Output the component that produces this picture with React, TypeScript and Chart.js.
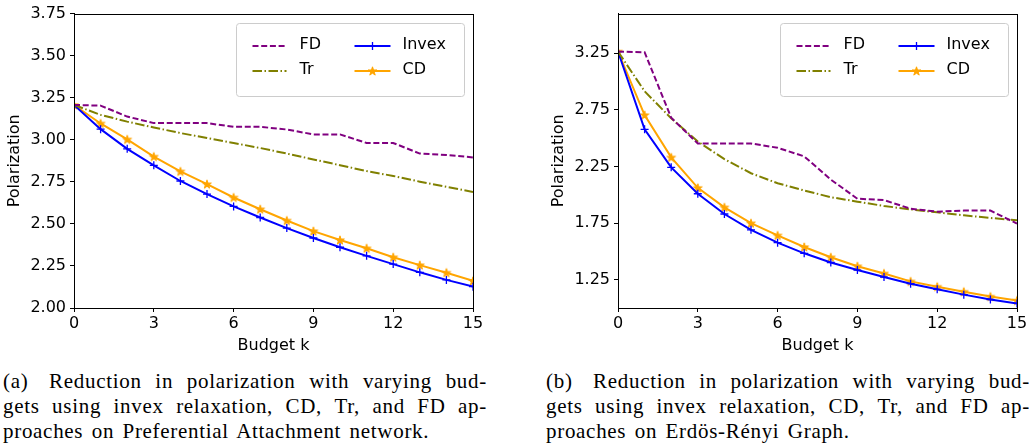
import React, { useEffect, useRef } from "react";
import { Chart, registerables } from "chart.js";

Chart.register(...registerables);

// ---------- data ----------
const budgets = [0, 1, 2, 3, 4, 5, 6, 7, 8, 9, 10, 11, 12, 13, 14, 15];
const xTicks = [0, 3, 6, 9, 12, 15];

// (a) Preferential Attachment
const paFD = [3.207, 3.203, 3.138, 3.099, 3.099, 3.099, 3.077, 3.077, 3.061, 3.032, 3.032, 2.981, 2.981, 2.918, 2.91, 2.895];
const paTr = [3.207, 3.148, 3.108, 3.073, 3.04, 3.01, 2.981, 2.951, 2.918, 2.883, 2.849, 2.814, 2.785, 2.751, 2.72, 2.69];
const paInvex = [3.207, 3.063, 2.946, 2.848, 2.755, 2.677, 2.604, 2.538, 2.475, 2.416, 2.361, 2.31, 2.261, 2.212, 2.167, 2.127];
const paCD = [3.207, 3.097, 3.002, 2.9, 2.812, 2.736, 2.657, 2.587, 2.52, 2.457, 2.404, 2.355, 2.302, 2.255, 2.21, 2.161];
const paYTicks = [2.0, 2.25, 2.5, 2.75, 3.0, 3.25, 3.5, 3.75];
const paYRange = [2.0, 3.75];

// (b) Erdös-Rényi
const erFD = [3.265, 3.259, 2.68, 2.453, 2.453, 2.453, 2.415, 2.339, 2.134, 1.965, 1.953, 1.877, 1.851, 1.86, 1.86, 1.746];
const erTr = [3.265, 2.914, 2.675, 2.47, 2.315, 2.19, 2.102, 2.038, 1.979, 1.939, 1.901, 1.871, 1.845, 1.819, 1.795, 1.775];
const erInvex = [3.265, 2.578, 2.242, 2.009, 1.83, 1.69, 1.577, 1.483, 1.402, 1.335, 1.273, 1.215, 1.165, 1.118, 1.075, 1.04];
const erCD = [3.265, 2.704, 2.33, 2.061, 1.889, 1.749, 1.641, 1.539, 1.448, 1.369, 1.305, 1.235, 1.188, 1.144, 1.101, 1.066];
const erYTicks = [1.25, 1.75, 2.25, 2.75, 3.25];
const erYRange = [1.0, 3.6];

const seriesNames = ["FD", "Tr", "Invex", "CD"];
const captionA = [
  ["(a)", "Reduction", "in", "polarization", "with", "varying", "bud-"],
  ["gets", "using", "invex", "relaxation,", "CD,", "Tr,", "and", "FD", "ap-"],
  ["proaches on Preferential Attachment network."],
];
const captionB = [
  ["(b)", "Reduction", "in", "polarization", "with", "varying", "bud-"],
  ["gets", "using", "invex", "relaxation,", "CD,", "Tr,", "and", "FD", "ap-"],
  ["proaches on Erdös-Rényi Graph."],
];

// ---------- styles ----------
const PURPLE = "#800080";
const OLIVE = "#808000";
const BLUE = "#0000ff";
const ORANGE = "#ffa500";
const FONT = "'DejaVu Sans', sans-serif";
const FD_DASH = [6, 2.7];
const TR_DASH = [9.5, 2.5, 1.5, 2.5];

function drawStar(ctx: CanvasRenderingContext2D, cx: number, cy: number, R: number) {
  const r = R * 0.382;
  ctx.beginPath();
  for (let i = 0; i < 10; i++) {
    const rad = i % 2 === 0 ? R : r;
    const a = -Math.PI / 2 + (i * Math.PI) / 5;
    const px = cx + rad * Math.cos(a);
    const py = cy + rad * Math.sin(a);
    if (i === 0) ctx.moveTo(px, py);
    else ctx.lineTo(px, py);
  }
  ctx.closePath();
  ctx.fillStyle = ORANGE;
  ctx.fill();
  ctx.strokeStyle = ORANGE;
  ctx.lineWidth = 1;
  ctx.stroke();
}

function makeStarImage(): HTMLCanvasElement {
  const c = document.createElement("canvas");
  c.width = 12;
  c.height = 12;
  const ctx = c.getContext("2d")!;
  drawStar(ctx, 6, 6.4, 4.6);
  return c;
}

const framePlugin = {
  id: "frame",
  afterDatasetsDraw(chart: any) {
    const { ctx, chartArea: a } = chart;
    ctx.save();
    ctx.strokeStyle = "#000";
    ctx.lineWidth = 1;
    ctx.setLineDash([]);
    ctx.strokeRect(Math.round(a.left) + 0.5, Math.round(a.top) + 0.5, Math.round(a.right - a.left), Math.round(a.bottom - a.top));
    ctx.restore();
  },
};

const legendPlugin = {
  id: "mplLegend",
  afterDraw(chart: any) {
    const { ctx, chartArea: a } = chart;
    const W = 228, H = 73;
    const L = Math.round(a.right) - 9 - W + 0.5;
    const T = Math.round(a.top) + 9 + 0.5;
    ctx.save();
    ctx.beginPath();
    ctx.roundRect(L, T, W, H, 3);
    ctx.fillStyle = "rgba(255,255,255,0.8)";
    ctx.fill();
    ctx.strokeStyle = "#cccccc";
    ctx.lineWidth = 1;
    ctx.stroke();

    const rows = [T + 22.5, T + 47.5];
    const entries = [
      { name: seriesNames[0], col: 0, row: 0, color: PURPLE, dash: FD_DASH, marker: "" },
      { name: seriesNames[1], col: 0, row: 1, color: OLIVE, dash: TR_DASH, marker: "" },
      { name: seriesNames[2], col: 1, row: 0, color: BLUE, dash: [], marker: "cross" },
      { name: seriesNames[3], col: 1, row: 1, color: ORANGE, dash: [], marker: "star" },
    ];
    const cols = [
      { x0: 16, x1: 50, tx: 63 },
      { x0: 118, x1: 154, tx: 166 },
    ];
    ctx.font = `16px ${FONT}`;
    ctx.textBaseline = "middle";
    ctx.textAlign = "left";
    for (const e of entries) {
      const c = cols[e.col];
      const y = Math.round(rows[e.row]);
      ctx.beginPath();
      ctx.setLineDash(e.dash);
      ctx.strokeStyle = e.color;
      ctx.lineWidth = 2;
      ctx.moveTo(L + c.x0, y);
      ctx.lineTo(L + c.x1, y);
      ctx.stroke();
      ctx.setLineDash([]);
      const mx = L + (c.x0 + c.x1) / 2;
      if (e.marker === "cross") {
        ctx.beginPath();
        ctx.lineWidth = 1.3;
        ctx.moveTo(mx - 4, y);
        ctx.lineTo(mx + 4, y);
        ctx.moveTo(mx, y - 4);
        ctx.lineTo(mx, y + 4);
        ctx.stroke();
      } else if (e.marker === "star") {
        drawStar(ctx, mx, y + 0.4, 4.6);
      }
      ctx.fillStyle = "#000";
      ctx.fillText(e.name, L + c.tx, y - 1);
    }
    ctx.restore();
  },
};

function toPoints(ys: number[]) {
  return budgets.map((b, i) => ({ x: b, y: ys[i] }));
}

function buildConfig(fd: number[], tr: number[], inv: number[], cd: number[], yRange: number[], yTicks: number[], star: HTMLCanvasElement): any {
  const common = { borderWidth: 2, fill: false, tension: 0, pointHoverRadius: 0 };
  return {
    type: "line",
    data: {
      datasets: [
        { ...common, label: seriesNames[0], data: toPoints(fd), borderColor: PURPLE, borderDash: FD_DASH, pointRadius: 0 },
        { ...common, label: seriesNames[1], data: toPoints(tr), borderColor: OLIVE, borderDash: TR_DASH, pointRadius: 0 },
        { ...common, label: seriesNames[2], data: toPoints(inv), borderColor: BLUE, pointStyle: "cross", pointRadius: 4, pointBorderWidth: 1.3, pointBorderColor: BLUE, pointBackgroundColor: BLUE },
        { ...common, label: seriesNames[3], data: toPoints(cd), borderColor: ORANGE, pointStyle: star, pointRadius: 5, pointBorderColor: ORANGE, pointBackgroundColor: ORANGE },
      ],
    },
    options: {
      animation: false,
      responsive: false,
      maintainAspectRatio: false,
      events: [],
      layout: { padding: { left: 0, right: 27, top: 11, bottom: 0 } },
      plugins: { legend: { display: false }, tooltip: { enabled: false } },
      scales: {
        x: {
          type: "linear",
          min: 0,
          max: 15,
          afterBuildTicks: (s: any) => {
            s.ticks = xTicks.map((v) => ({ value: v }));
          },
          ticks: { color: "#000", font: { family: FONT, size: 16 }, padding: 2, maxRotation: 0, autoSkip: false, callback: (v: any) => String(v) },
          grid: { display: true, drawOnChartArea: false, drawTicks: true, tickLength: 4, color: "#000", tickColor: "#000", lineWidth: 1 },
          border: { display: true, color: "#000", width: 1 },
          title: { display: true, text: "Budget k", color: "#000", font: { family: FONT, size: 16 }, padding: { top: 0, bottom: 5 } },
          afterFit: (s: any) => {
            s.height = 52;
          },
        },
        y: {
          type: "linear",
          min: yRange[0],
          max: yRange[1],
          afterBuildTicks: (s: any) => {
            s.ticks = yTicks.map((v) => ({ value: v }));
          },
          ticks: { color: "#000", font: { family: FONT, size: 16 }, padding: 4, autoSkip: false, callback: (v: any) => Number(v).toFixed(2) },
          grid: { display: true, drawOnChartArea: false, drawTicks: true, tickLength: 4, color: "#000", tickColor: "#000", lineWidth: 1 },
          border: { display: true, color: "#000", width: 1 },
          title: { display: true, text: "Polarization", color: "#000", font: { family: FONT, size: 16 }, padding: { top: 5, bottom: 0 } },
          afterFit: (s: any) => {
            s.width = 74;
          },
        },
      },
    },
    plugins: [framePlugin, legendPlugin],
  };
}

function LineChart(props: { fd: number[]; tr: number[]; inv: number[]; cd: number[]; yRange: number[]; yTicks: number[]; left: number }) {
  const ref = useRef<HTMLCanvasElement | null>(null);
  useEffect(() => {
    if (!ref.current) return;
    const star = makeStarImage();
    const chart = new Chart(ref.current, buildConfig(props.fd, props.tr, props.inv, props.cd, props.yRange, props.yTicks, star));
    return () => chart.destroy();
  }, []);
  return (
    <canvas
      ref={ref}
      width={500}
      height={360}
      style={{ position: "absolute", left: props.left, top: 0, width: 500, height: 360 }}
    />
  );
}

function Caption(props: { lines: string[][]; left: number }) {
  return (
    <div
      style={{
        position: "absolute",
        left: props.left,
        top: 369,
        width: 484,
        fontFamily: "'Liberation Serif', 'Times New Roman', serif",
        fontSize: 21,
        letterSpacing: 0.7,
        lineHeight: "24.8px",
        color: "#000",
      }}
    >
      {props.lines.map((words, i) =>
        i < props.lines.length - 1 ? (
          <div key={i} style={{ display: "flex", justifyContent: "space-between", whiteSpace: "nowrap", height: 24.8 }}>
            {words.map((w, j) => (
              <span key={j} style={{ paddingRight: j === 0 && w.startsWith("(") ? 7 : 0 }}>
                {w}
              </span>
            ))}
          </div>
        ) : (
          <div key={i} style={{ whiteSpace: "nowrap", wordSpacing: 2.5, height: 24.8 }}>
            {words.join(" ")}
          </div>
        )
      )}
    </div>
  );
}

export default function App() {
  return (
    <div style={{ position: "fixed", left: 0, top: 0, width: 1029, height: 447, overflow: "hidden", background: "#fff" }}>
      <LineChart fd={paFD} tr={paTr} inv={paInvex} cd={paCD} yRange={paYRange} yTicks={paYTicks} left={0} />
      <LineChart fd={erFD} tr={erTr} inv={erInvex} cd={erCD} yRange={erYRange} yTicks={erYTicks} left={544} />
      <Caption lines={captionA} left={3} />
      <Caption lines={captionB} left={546} />
    </div>
  );
}
